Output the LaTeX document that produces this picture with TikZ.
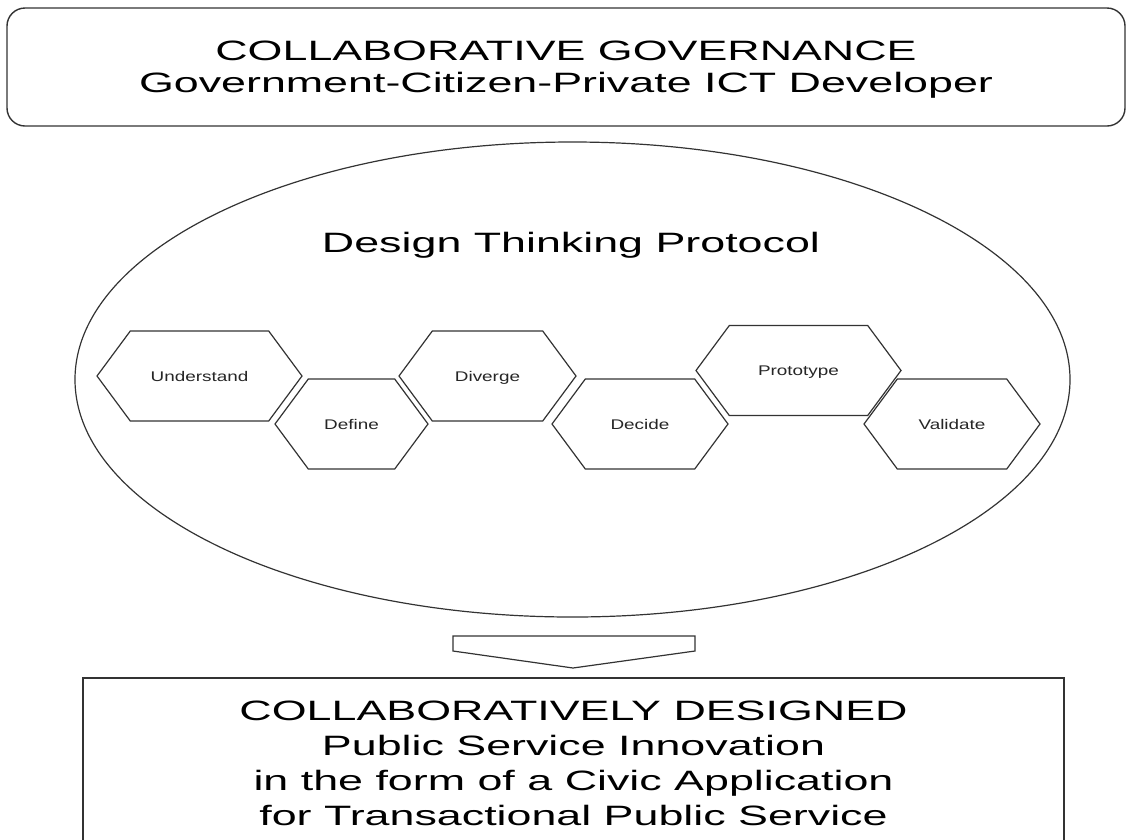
\documentclass[tikz,border=0pt]{standalone}
\usepackage{fontspec}
\setmainfont{Liberation Sans}[FakeStretch=1.6]
\newfontfamily\phasefont{Liberation Sans}[FakeStretch=1.35]
\usetikzlibrary{positioning,shapes.geometric,shapes.symbols}
\tikzset{
    frame/.style={draw=black!80, line width=1.4pt},
    heading/.style={align=center, text depth=0pt,
                    font=\fontsize{28}{32}\selectfont},
    phase/.style={signal, signal to=east and west, signal pointer angle=107,
                  draw=black!80, line width=1.2pt, fill=white,
                  minimum height=90pt, inner sep=0pt, text depth=0pt,
                  text=black!85, font=\phasefont\fontsize{14}{17}\selectfont},
    }

\begin{document}
\begin{tikzpicture}[x=1pt, y=-1pt]
    \useasboundingbox (0,0) rectangle (1131,839);
    \clip (0,0) rectangle (1131,839);

    % who takes part
    \node[frame, heading, rounded corners=18pt, minimum width=1118pt,
          minimum height=118pt] (gov) at (566,67)
          {COLLABORATIVE GOVERNANCE\\Government-Citizen-Private ICT Developer};

    % the protocol and its six phases
    \node[frame, ellipse, line width=1.2pt, inner sep=0pt, minimum width=995pt,
          minimum height=475pt] (dtp) at (572.5,379.5) {};
    \node[anchor=base, font=\fontsize{28}{32}\selectfont] (dtptitle) at (571,252)
          {Design Thinking Protocol};

    \node[phase, minimum width=205pt] (understand) at (199.5,376) {Understand};
    \node[phase, minimum width=153pt] (define)     at (351.5,424) {Define};
    \node[phase, minimum width=177pt] (diverge)    at (487.5,376) {Diverge};
    \node[phase, minimum width=176pt] (decide)     at (640,424)   {Decide};
    \node[phase, minimum width=205pt] (prototype)  at (798.5,370.5) {Prototype};
    \node[phase, minimum width=176pt] (validate)   at (952,424)   {Validate};

    % block arrow down to the outcome
    \draw[frame, line width=1.2pt] (453,636) -- (695,636) -- (695,651)
          -- (573,668) -- (453,651) -- cycle;

    % outcome
    \node[frame, heading, font=\fontsize{28}{35}\selectfont, minimum width=981pt,
          minimum height=170pt] (outcome) at (573.5,763)
          {COLLABORATIVELY DESIGNED\\Public Service Innovation\\
           in the form of a Civic Application\\for Transactional Public Service};
\end{tikzpicture}
\end{document}
